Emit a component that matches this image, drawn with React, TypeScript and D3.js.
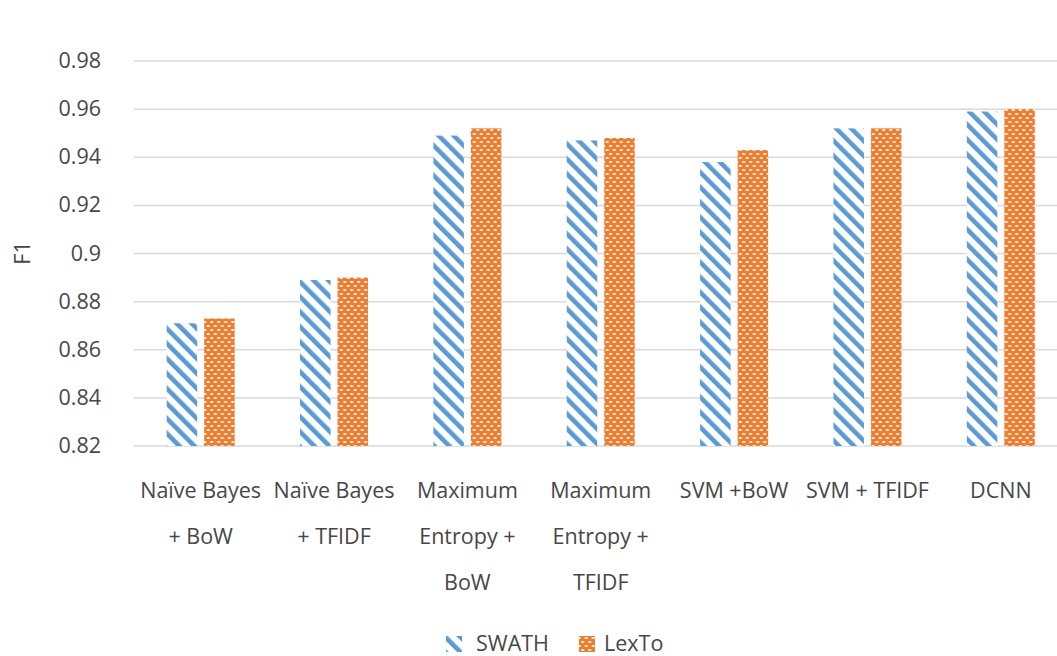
import React from "react";
import * as d3 from "d3";

const categories: string[][] = [
  ["Naïve Bayes", "+ BoW"],
  ["Naïve Bayes", "+ TFIDF"],
  ["Maximum", "Entropy +", "BoW"],
  ["Maximum", "Entropy +", "TFIDF"],
  ["SVM +BoW"],
  ["SVM + TFIDF"],
  ["DCNN"],
];
const swathValues = [0.871, 0.889, 0.949, 0.947, 0.938, 0.952, 0.959];
const lextoValues = [0.873, 0.89, 0.952, 0.948, 0.943, 0.952, 0.96];
const yTicks = [0.82, 0.84, 0.86, 0.88, 0.9, 0.92, 0.94, 0.96, 0.98];
const seriesNames = ["SWATH", "LexTo"];

const W = 1057;
const H = 656;
const FONT = "'Open Sans', 'Noto Sans', sans-serif";
const BLUE = "#5B9BD5";
const ORANGE = "#ED7D31";
const TEXT = "#474747";
const FS = 21.5;

export default function App() {
  const x = d3
    .scaleBand<number>()
    .domain(categories.map((_, i) => i))
    .range([134, 1067.5])
    .padding(0);
  const y = d3.scaleLinear().domain([0.82, 0.98]).range([446, 61]);
  const barW = 30.5;
  const gap = 7;

  return (
    <svg
      width={W}
      height={H}
      style={{ position: "absolute", left: 0, top: 0, background: "#fff" }}
      fontFamily={FONT}
    >
      <defs>
        <pattern
          id="stripes"
          patternUnits="userSpaceOnUse"
          width={10.6}
          height={10.6}
          patternTransform="rotate(-45)"
        >
          <rect width={10.6} height={10.6} fill="#fff" />
          <rect x={0} y={0} width={4.6} height={10.6} fill={BLUE} />
        </pattern>
        <pattern id="bricks" patternUnits="userSpaceOnUse" width={7} height={8}>
          <rect width={7} height={8} fill={ORANGE} />
          <ellipse cx={1.75} cy={2} rx={1.8} ry={1} fill="#fff2e8" />
          <ellipse cx={5.25} cy={6} rx={1.8} ry={1} fill="#fff2e8" />
        </pattern>
      </defs>

      {/* horizontal gridlines */}
      {yTicks.map((t) => (
        <line
          key={t}
          x1={134}
          x2={1067}
          y1={y(t)}
          y2={y(t)}
          stroke="#d9d9d9"
          strokeWidth={1.5}
        />
      ))}
      {yTicks.map((t) => (
        <text
          key={"l" + t}
          x={101}
          y={y(t) + 7}
          textAnchor="end"
          fontSize={FS}
          fill={TEXT}
        >
          {d3.format("")(+t.toFixed(2))}
        </text>
      ))}
      <text
        transform={`translate(30,${253}) rotate(-90)`}
        textAnchor="middle"
        fontSize={FS}
        fill={TEXT}
      >
        F1
      </text>

      {/* bars */}
      {categories.map((_, i) => {
        const c = (x(i) as number) + x.bandwidth() / 2;
        return (
          <g key={i}>
            <rect
              x={c - gap / 2 - barW}
              y={y(swathValues[i])}
              width={barW}
              height={y(0.82) - y(swathValues[i])}
              fill="url(#stripes)"
            />
            <rect
              x={c + gap / 2}
              y={y(lextoValues[i])}
              width={barW}
              height={y(0.82) - y(lextoValues[i])}
              fill="url(#bricks)"
            />
          </g>
        );
      })}

      {/* category labels */}
      {categories.map((lines, i) => {
        const c = (x(i) as number) + x.bandwidth() / 2;
        return (
          <text key={"c" + i} textAnchor="middle" fontSize={FS} fill={TEXT}>
            {lines.map((ln, j) => (
              <tspan key={j} x={c} y={498 + j * 46}>
                {ln}
              </tspan>
            ))}
          </text>
        );
      })}

      {/* legend */}
      <rect x={446} y={636} width={16} height={16} fill="url(#stripes)" />
      <text x={476} y={651} fontSize={FS} fill={TEXT}>
        {seriesNames[0]}
      </text>
      <rect x={579} y={636} width={16} height={16} fill="url(#bricks)" />
      <text x={604} y={651} fontSize={FS} fill={TEXT}>
        {seriesNames[1]}
      </text>
    </svg>
  );
}
